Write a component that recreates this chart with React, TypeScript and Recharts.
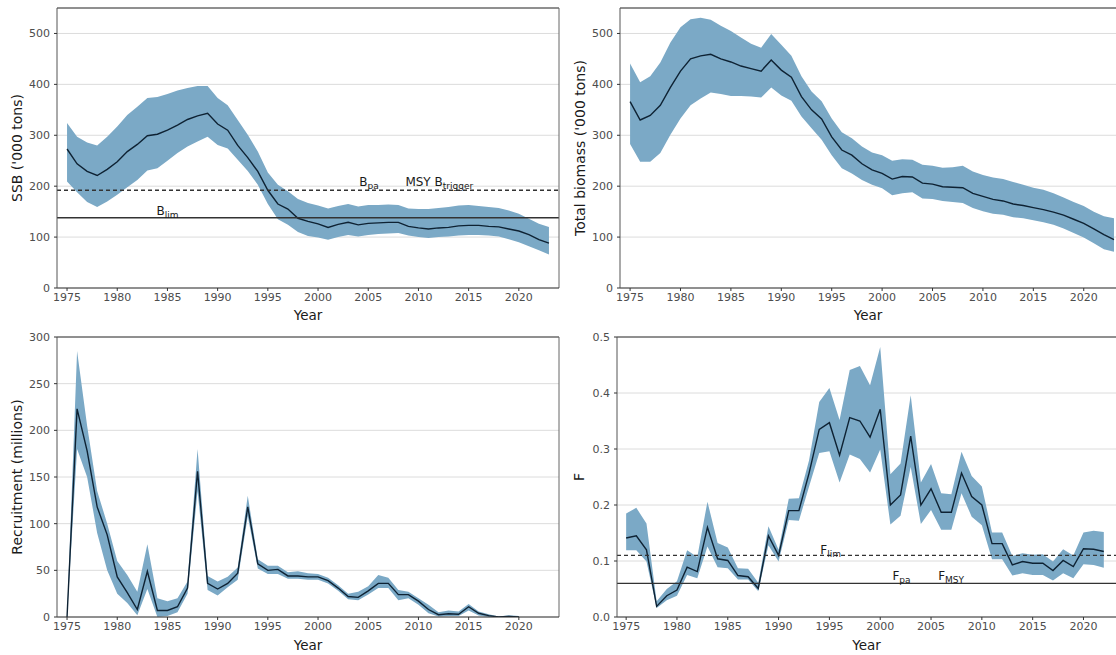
import React from "react";
import {
  Area,
  ComposedChart,
  CartesianGrid,
  Line,
  ReferenceDot,
  ReferenceLine,
  XAxis,
  YAxis,
} from "recharts";

const FONT = "DejaVu Sans, Verdana, sans-serif";
const BAND = "#7ba9c6";
const LINE = "#0e2233";
const TICK = "#4d4d4d";

const YEARS = [
  1975, 1976, 1977, 1978, 1979, 1980, 1981, 1982, 1983, 1984,
  1985, 1986, 1987, 1988, 1989, 1990, 1991, 1992, 1993, 1994,
  1995, 1996, 1997, 1998, 1999, 2000, 2001, 2002, 2003, 2004,
  2005, 2006, 2007, 2008, 2009, 2010, 2011, 2012, 2013, 2014,
  2015, 2016, 2017, 2018, 2019, 2020, 2021, 2022, 2023,
];
const X_TICKS = [1975, 1980, 1985, 1990, 1995, 2000, 2005, 2010, 2015, 2020];

// SSB ('000 tons)
const SSB_MID = [
  273, 244, 229, 221, 233, 248, 268, 282, 299, 302,
  310, 320, 331, 338, 343, 322, 310, 280, 256, 229,
  192, 165, 155, 137, 131, 126, 119, 125, 129, 124,
  127, 128, 129, 129, 121, 118, 116, 118, 119, 122,
  123, 123, 121, 120, 116, 112, 105, 95, 88,
];
const SSB_HI = [
  324, 297, 286, 280, 297, 317, 340, 356, 373, 375,
  381, 388, 393, 397, 397, 373, 359, 330, 301, 268,
  227, 203, 190, 175, 167, 162, 156, 161, 165, 160,
  163, 163, 164, 163, 156, 155, 155, 157, 159, 162,
  163, 161, 159, 157, 152, 146, 136, 126, 120,
];
const SSB_LO = [
  209, 188, 169, 159, 170, 183, 198, 212, 231, 235,
  250, 265, 278, 288, 297, 281, 274, 252, 230, 203,
  165, 135, 124, 110, 102, 99, 95, 100, 104, 101,
  104, 106, 107, 108, 103, 100, 98, 100, 101, 103,
  104, 104, 103, 101, 96, 90, 82, 74, 66,
];
const B_PA = 192;
const B_LIM = 138;

// Total biomass ('000 tons)
const TB_MID = [
  366, 330, 339, 359, 394, 426, 450, 456, 459, 450,
  444, 436, 431, 426, 448, 428, 414, 376, 350, 332,
  297, 271, 261, 244, 232, 225, 214, 219, 218, 206,
  204, 199, 198, 197, 186, 180, 174, 171, 165, 162,
  158, 154, 149, 143, 135, 127, 116, 105, 95,
];
const TB_HI = [
  441, 404, 416, 443, 482, 512, 528, 531, 527, 515,
  505, 492, 480, 472, 499, 478, 456, 416, 386, 367,
  333, 306, 294, 278, 266, 261, 250, 253, 252, 242,
  240, 236, 237, 240, 229, 222, 217, 214, 208, 203,
  197, 193, 186, 178, 169, 161, 150, 141, 137,
];
const TB_LO = [
  283, 248, 248, 265, 301, 333, 359, 372, 384, 381,
  377, 377, 376, 374, 394, 378, 368, 337, 314, 291,
  261, 235, 225, 212, 203, 196, 182, 186, 188, 176,
  175, 171, 169, 167, 157, 151, 146, 144, 139, 137,
  133, 129, 124, 117, 108, 99, 88, 76, 71,
];

// Recruitment (millions), 1975-2020
const REC_MID = [
  0, 223, 178, 118, 88, 43, 26, 8, 49, 7,
  7, 11, 31, 156, 36, 30, 36, 47, 118, 57,
  50, 51, 44, 44, 43, 43, 39, 31, 22, 21,
  28, 36, 36, 24, 24, 17, 8, 2.5, 3.5, 3,
  11, 4, 1.5, 0, 0.7, 0,
];
const REC_HI = [
  0, 285, 205, 135, 100, 60, 45, 27, 78, 20,
  17, 20, 38, 180, 44, 38, 43, 53, 130, 62,
  55, 55, 48, 49, 47, 46, 42, 34, 25, 27,
  33, 45, 42, 29, 27, 20, 13, 5, 7, 6,
  14, 6, 3, 0.5, 2, 1,
];
const REC_LO = [
  0, 180, 150, 90, 50, 25, 15, 2, 30, 0,
  1, 5, 25, 135, 29, 23, 32, 40, 108, 52,
  46, 46, 41, 41, 40, 40, 36, 28, 19, 18,
  24, 31, 31, 18, 20, 13, 4, 0.5, 1, 1,
  7, 1.5, 0, 0, 0, 0,
];

// Fishing mortality, 1975-2022
const F_MID = [
  0.141, 0.145, 0.12, 0.019, 0.038, 0.048, 0.089, 0.081, 0.16, 0.104,
  0.101, 0.074, 0.072, 0.051, 0.145, 0.11, 0.19, 0.19, 0.257, 0.335,
  0.347, 0.289, 0.356, 0.35, 0.321, 0.371, 0.2, 0.218, 0.323, 0.2,
  0.229, 0.187, 0.187, 0.257, 0.215, 0.2, 0.131, 0.131, 0.093, 0.099,
  0.096, 0.096, 0.083, 0.101, 0.09, 0.122, 0.121, 0.117,
];
const F_HI = [
  0.185, 0.195, 0.167, 0.028, 0.05, 0.064, 0.119, 0.107, 0.206, 0.132,
  0.124, 0.087, 0.086, 0.061, 0.162, 0.12, 0.211, 0.212, 0.28, 0.384,
  0.409, 0.352, 0.441, 0.448, 0.414, 0.482, 0.255, 0.274, 0.396, 0.24,
  0.273, 0.221, 0.219, 0.295, 0.252, 0.233, 0.151, 0.151, 0.109, 0.114,
  0.111, 0.112, 0.099, 0.121, 0.11, 0.151, 0.154, 0.152,
];
const F_LO = [
  0.119, 0.119, 0.099, 0.016, 0.03, 0.038, 0.075, 0.069, 0.126, 0.089,
  0.087, 0.067, 0.067, 0.046, 0.128, 0.099, 0.173, 0.172, 0.233, 0.293,
  0.296, 0.24, 0.29, 0.282, 0.258, 0.299, 0.165, 0.181, 0.268, 0.166,
  0.191, 0.156, 0.156, 0.221, 0.179, 0.164, 0.103, 0.103, 0.074, 0.078,
  0.075, 0.075, 0.065, 0.078, 0.069, 0.094, 0.093, 0.088,
];
const F_LIM = 0.11;
const F_PA = 0.06;

type Row = { year: number; mid: number; band: [number, number] };
type RefLine = { y: number; dashed: boolean };
type RefLabel = { year: number; y: number; main: string; sub: string; dy: number };

function rows(mid: number[], lo: number[], hi: number[]): Row[] {
  return mid.map((m, i) => ({ year: YEARS[i], mid: m, band: [lo[i], hi[i]] }));
}

function YTitle({ tx, ty, text }: { tx: number; ty: number; text: string }) {
  return (
    <text
      x={tx}
      y={ty}
      transform={`rotate(-90 ${tx} ${ty})`}
      textAnchor="middle"
      dominantBaseline="central"
      fontSize={14}
      fill="#1a1a1a"
      fontFamily={FONT}
    >
      {text}
    </text>
  );
}

function RefText(props: any) {
  const { cx, cy, main, sub, dy } = props;
  return (
    <text x={cx} y={cy + dy} fontSize={12} fill="#1a1a1a" fontFamily={FONT}>
      {main}
      <tspan fontSize={9} dy={3}>
        {sub}
      </tspan>
    </text>
  );
}

type PanelProps = {
  left: number;
  top: number;
  width: number;
  height: number;
  marginTop: number;
  yAxisWidth: number;
  xAxisHeight: number;
  xDomain: [number, number];
  yDomain: [number, number];
  yTicks: number[];
  yLabel: string;
  yLabelX: number;
  yearOffset: number;
  data: Row[];
  refLines: RefLine[];
  refLabels: RefLabel[];
  rightBorder: boolean;
  fmt?: (v: number) => string;
};

function Panel(p: PanelProps) {
  const plotTop = p.marginTop;
  const plotBottom = p.height - p.xAxisHeight;
  return (
    <div style={{ position: "absolute", left: p.left, top: p.top }}>
      <ComposedChart
        width={p.width}
        height={p.height}
        data={p.data}
        margin={{ top: p.marginTop, right: p.rightBorder ? 1 : 0, left: 0, bottom: 0 }}
      >
        <CartesianGrid vertical={false} stroke="#dcdcdc" />
        <XAxis
          dataKey="year"
          type="number"
          domain={p.xDomain}
          ticks={X_TICKS}
          allowDataOverflow
          height={p.xAxisHeight}
          tick={{ fill: TICK, fontSize: 11, fontFamily: FONT }}
          tickLine={{ stroke: "#333" }}
          axisLine={{ stroke: "#333" }}
          tickSize={3}
          tickMargin={2}
          label={{
            value: "Year",
            position: "insideBottom",
            offset: p.yearOffset,
            fill: "#1a1a1a",
            fontSize: 13.5,
            fontFamily: FONT,
          }}
        />
        <YAxis
          type="number"
          domain={p.yDomain}
          ticks={p.yTicks}
          allowDataOverflow
          width={p.yAxisWidth}
          tick={{ fill: TICK, fontSize: 11, fontFamily: FONT }}
          tickLine={{ stroke: "#333" }}
          axisLine={{ stroke: "#555" }}
          tickSize={3}
          tickMargin={4}
          tickFormatter={p.fmt}
          label={<YTitle tx={p.yLabelX} ty={(plotTop + plotBottom) / 2} text={p.yLabel} />}
        />
        <Area
          dataKey="band"
          stroke="none"
          fill={BAND}
          fillOpacity={1}
          isAnimationActive={false}
        />
        <Line
          dataKey="mid"
          stroke={LINE}
          strokeWidth={1.4}
          dot={false}
          isAnimationActive={false}
        />
        {p.refLines.map((r) => (
          <ReferenceLine
            key={r.y}
            y={r.y}
            stroke="#333"
            strokeWidth={1.3}
            strokeDasharray={r.dashed ? "4 3" : undefined}
          />
        ))}
        <ReferenceLine y={p.yDomain[1]} stroke="#333" strokeWidth={1} />
        {p.rightBorder && (
          <ReferenceLine x={p.xDomain[1]} stroke="#666" strokeWidth={1} />
        )}
        {p.refLabels.map((l) => (
          <ReferenceDot
            key={l.main + l.sub}
            x={l.year}
            y={l.y}
            r={1}
            ifOverflow="visible"
            shape={(sp: any) => <RefText {...sp} main={l.main} sub={l.sub} dy={l.dy} />}
          />
        ))}
      </ComposedChart>
    </div>
  );
}

export default function App() {
  return (
    <div
      style={{
        position: "absolute",
        left: 0,
        top: 0,
        width: 1116,
        height: 655,
        background: "#fff",
        overflow: "hidden",
      }}
    >
      <Panel
        left={0}
        top={320}
        width={560}
        height={335}
        marginTop={17}
        yAxisWidth={57}
        xAxisHeight={38}
        xDomain={[1974, 2024]}
        yDomain={[0, 300]}
        yTicks={[0, 50, 100, 150, 200, 250, 300]}
        yLabel="Recruitment (millions)"
        yLabelX={17}
        yearOffset={5}
        data={rows(REC_MID, REC_LO, REC_HI)}
        refLines={[]}
        refLabels={[]}
        rightBorder
      />
      <Panel
        left={560}
        top={320}
        width={556}
        height={335}
        marginTop={17}
        yAxisWidth={57}
        xAxisHeight={38}
        xDomain={[1974.1, 2023.2]}
        yDomain={[0, 0.5]}
        yTicks={[0, 0.1, 0.2, 0.3, 0.4, 0.5]}
        yLabel="F"
        yLabelX={19}
        yearOffset={5}
        data={rows(F_MID, F_LO, F_HI)}
        refLines={[
          { y: F_LIM, dashed: true },
          { y: F_PA, dashed: false },
        ]}
        refLabels={[
          { year: 1994.1, y: F_LIM, main: "F", sub: "lim", dy: -1.5 },
          { year: 2001.2, y: F_PA, main: "F", sub: "pa", dy: -3.5 },
          { year: 2005.7, y: F_PA, main: "F", sub: "MSY", dy: -3.5 },
        ]}
        rightBorder={false}
        fmt={(v: number) => v.toFixed(1)}
      />
      <Panel
        left={0}
        top={0}
        width={560}
        height={324}
        marginTop={8}
        yAxisWidth={57}
        xAxisHeight={36}
        xDomain={[1974, 2024]}
        yDomain={[0, 550]}
        yTicks={[0, 100, 200, 300, 400, 500]}
        yLabel="SSB ('000 tons)"
        yLabelX={17}
        yearOffset={4}
        data={rows(SSB_MID, SSB_LO, SSB_HI)}
        refLines={[
          { y: B_PA, dashed: true },
          { y: B_LIM, dashed: false },
        ]}
        refLabels={[
          { year: 2004.1, y: B_PA, main: "B", sub: "pa", dy: -4 },
          { year: 2008.7, y: B_PA, main: "MSY B", sub: "trigger", dy: -4 },
          { year: 1983.9, y: B_LIM, main: "B", sub: "lim", dy: -3 },
        ]}
        rightBorder
      />
      <Panel
        left={560}
        top={0}
        width={556}
        height={324}
        marginTop={8}
        yAxisWidth={60}
        xAxisHeight={36}
        xDomain={[1974, 2023.2]}
        yDomain={[0, 550]}
        yTicks={[0, 100, 200, 300, 400, 500]}
        yLabel="Total biomass ('000 tons)"
        yLabelX={20}
        yearOffset={4}
        data={rows(TB_MID, TB_LO, TB_HI)}
        refLines={[]}
        refLabels={[]}
        rightBorder={false}
      />
    </div>
  );
}
